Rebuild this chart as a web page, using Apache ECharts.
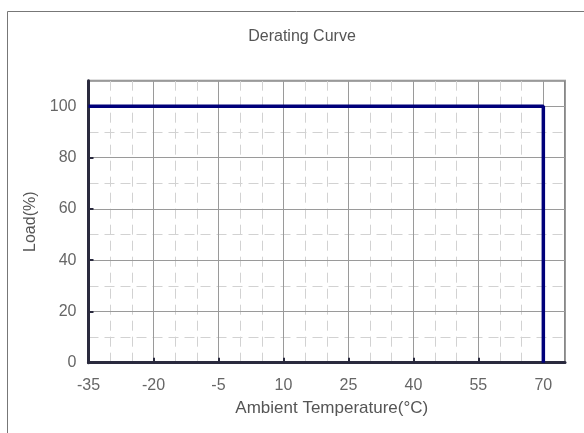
<!DOCTYPE html>
<html>
<head>
<meta charset="utf-8">
<script src="https://cdn.jsdelivr.net/npm/echarts@6/dist/echarts.min.js"></script>
<style>
html,body{margin:0;padding:0;background:#fff;}
#chart{width:584px;height:433px;}
</style>
</head>
<body>
<div id="chart"></div>
<script>
const titleText = 'Derating Curve';
const xName = 'Ambient Temperature(°C)';
const yName = 'Load(%)';
const temperature = [-35, 70, 70];
const load = [100, 100, 0];
const xMin = -35, xMax = 75, xMajor = 15, xMinor = 5;
const yMin = 0, yMax = 110, yMajor = 20, yMinor = 10;

const FONT = "'Liberation Sans', Arial, sans-serif";
const chart = echarts.init(document.getElementById('chart'));
const seriesData = temperature.map((t, i) => [t, load[i]]);

chart.setOption({
  animation: false,
  backgroundColor: '#fff',
  title: {
    text: titleText,
    left: 297,
    textAlign: 'center',
    top: 24,
    textStyle: {fontFamily: FONT, fontSize: 16, fontWeight: 'normal', color: '#555'}
  },
  graphic: [{
    type: 'rect',
    shape: {x: 7.5, y: 11.5, width: 700, height: 500},
    style: {fill: 'none', stroke: '#777', lineWidth: 1},
    z: 100
  }],
  grid: {
    left: 88.5, top: 80.7, right: 19, bottom: 70.3,
    show: true, borderColor: '#888', borderWidth: 2
  },
  xAxis: [{
    type: 'value', min: xMin, max: xMax, interval: xMajor,
    name: xName, nameLocation: 'middle', nameGap: 37,
    nameTextStyle: {fontFamily: FONT, fontSize: 17, color: '#555', padding: [0, 0, 0, 10]},
    axisLine: {show: true, onZero: false, lineStyle: {color: '#2a2a3e', width: 3}},
    axisTick: {show: true, inside: true, length: 5, lineStyle: {color: '#2a2a3e', width: 2}},
    axisLabel: {showMaxLabel: false, margin: 15, fontFamily: FONT, fontSize: 16, color: '#666'},
    splitLine: {show: true, lineStyle: {color: '#9a9a9a', width: 1}},
    z: 3
  }, {
    type: 'value', min: xMin, max: xMax, interval: xMinor,
    axisLine: {show: false}, axisTick: {show: false}, axisLabel: {show: false},
    splitLine: {show: true, lineStyle: {color: '#d2d2d2', width: 1, type: [10, 6]}},
    z: 1
  }],
  yAxis: [{
    type: 'value', min: yMin, max: yMax, interval: yMajor,
    name: yName, nameLocation: 'middle', nameGap: 45,
    nameTextStyle: {fontFamily: FONT, fontSize: 16, color: '#555'},
    axisLine: {show: true, onZero: false, lineStyle: {color: '#2a2a3e', width: 3}},
    axisTick: {show: true, inside: true, length: 5, lineStyle: {color: '#2a2a3e', width: 2}},
    axisLabel: {showMaxLabel: false, margin: 12, fontFamily: FONT, fontSize: 16, color: '#666'},
    splitLine: {show: true, lineStyle: {color: '#9a9a9a', width: 1}},
    z: 3
  }, {
    type: 'value', min: yMin, max: yMax, interval: yMinor,
    axisLine: {show: false}, axisTick: {show: false}, axisLabel: {show: false},
    splitLine: {show: true, lineStyle: {color: '#d2d2d2', width: 1, type: [10, 6]}},
    z: 1
  }],
  series: [{
    type: 'line',
    xAxisIndex: 0, yAxisIndex: 0,
    data: seriesData,
    symbol: 'none',
    lineStyle: {color: '#00007a', width: 3.5},
    z: 5
  }]
});
</script>
</body>
</html>
